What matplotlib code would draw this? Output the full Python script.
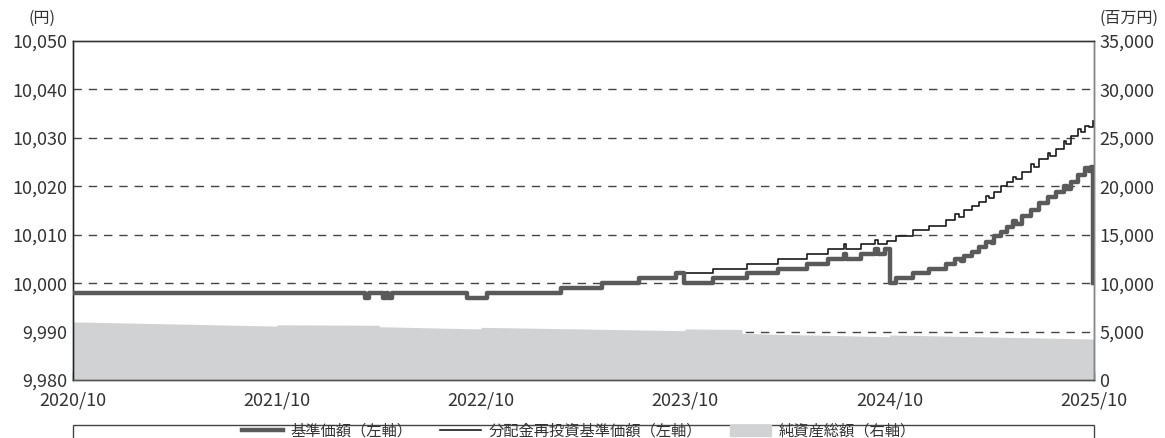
import numpy as np
import pandas as pd
import matplotlib
matplotlib.use("Agg")
import matplotlib.pyplot as plt
from matplotlib.ticker import FuncFormatter, MultipleLocator
from matplotlib.lines import Line2D
from matplotlib.patches import Patch, Rectangle

plt.rcParams['font.family'] = ['Noto Sans CJK JP', 'DejaVu Sans']

# 基準価額 (円), step values
nav_dates = ["2020-10-01", "2022-03-08", "2022-03-15", "2022-04-08", "2022-04-14", "2022-04-18",
             "2022-04-25", "2022-09-05", "2022-10-12", "2023-02-20", "2023-05-05", "2023-07-10",
             "2023-09-15", "2023-09-28", "2023-11-20", "2024-01-20", "2024-03-15", "2024-05-05",
             "2024-06-12", "2024-07-10", "2024-07-15", "2024-08-10", "2024-09-05", "2024-09-10",
             "2024-09-22", "2024-10-01", "2024-10-12", "2024-11-12", "2024-12-10", "2025-01-10",
             "2025-01-25", "2025-02-05", "2025-02-10", "2025-02-25", "2025-03-10", "2025-03-22",
             "2025-04-01", "2025-04-05", "2025-04-18", "2025-04-28", "2025-05-10", "2025-05-15",
             "2025-05-25", "2025-06-10", "2025-06-25", "2025-07-10", "2025-07-25", "2025-08-08",
             "2025-08-14", "2025-08-20", "2025-09-03", "2025-09-15", "2025-09-22", "2025-09-26",
             "2025-09-30"]
nav_values = [9998, 9997, 9998, 9997, 9998, 9997,
              9998, 9997, 9998, 9999, 10000, 10001,
              10002, 10000, 10001, 10002, 10003, 10004,
              10005, 10006, 10005, 10006, 10007, 10006,
              10007, 10000, 10001, 10002, 10003, 10004,
              10005, 10004.6, 10005.6, 10006.4, 10007.4, 10008.5,
              10008.2, 10009.7, 10010.6, 10011.6, 10012.8, 10012.3,
              10013.9, 10015.2, 10016.6, 10017.8, 10018.9, 10020,
              10019.5, 10020.9, 10022.3, 10023.7, 10023.2, 10024,
              10000]

# 分配金再投資基準価額 (円)
reinv_dates = ["2020-10-01", "2022-03-08", "2022-03-15", "2022-04-08", "2022-04-14", "2022-04-18",
               "2022-04-25", "2022-09-05", "2022-10-12", "2023-02-20", "2023-05-05", "2023-07-10",
               "2023-09-15", "2023-11-20", "2024-01-20", "2024-03-15", "2024-05-05", "2024-06-12",
               "2024-07-10", "2024-07-15", "2024-08-10", "2024-09-05", "2024-09-10", "2024-09-25",
               "2024-10-12", "2024-11-12", "2024-12-10", "2025-01-10", "2025-01-25", "2025-02-01",
               "2025-02-10", "2025-02-25", "2025-03-10", "2025-03-22", "2025-03-28", "2025-04-05",
               "2025-04-18", "2025-04-28", "2025-05-10", "2025-05-15", "2025-05-25", "2025-06-10",
               "2025-06-15", "2025-06-25", "2025-07-10", "2025-07-14", "2025-07-25", "2025-08-08",
               "2025-08-12", "2025-08-20", "2025-09-03", "2025-09-08", "2025-09-15", "2025-09-22",
               "2025-09-30"]
reinv_values = [9998, 9997, 9998, 9997, 9998, 9997,
                9998, 9997, 9998, 9999, 10000, 10001,
                10002, 10003, 10004, 10005, 10006, 10007,
                10008, 10007, 10008, 10009, 10008, 10008.8,
                10009.7, 10011, 10011.8, 10013, 10014.2, 10013.7,
                10015.1, 10016, 10016.8, 10018, 10017.5, 10018.9,
                10020, 10020.9, 10022, 10021.5, 10023, 10024.5,
                10024, 10025.6, 10026.8, 10026.3, 10027.8, 10029.3,
                10028.8, 10030.4, 10031.8, 10031.3, 10032.5, 10032.2,
                10033.5]

# 純資産総額 (百万円)
asset_dates = ["2020-10-01", "2021-09-30", "2021-10-01", "2022-04-01", "2022-04-02",
               "2022-09-30", "2022-10-01", "2023-09-30", "2023-10-01", "2024-01-10",
               "2024-01-11", "2024-09-30", "2024-10-01", "2025-10-01"]
asset_values = [6000, 5570, 5700, 5650, 5500,
                5270, 5440, 5090, 5270, 5220,
                4800, 4470, 4650, 4230]

x_ticks = ["2020-10-01", "2021-10-01", "2022-10-01", "2023-10-01", "2024-10-01", "2025-10-01"]
x_labels = ["2020/10", "2021/10", "2022/10", "2023/10", "2024/10", "2025/10"]

W, H = 1165, 438
fig = plt.figure(figsize=(W / 100, H / 100), dpi=100)
ax = fig.add_axes([73 / W, 1 - 380 / H, (1094 - 73) / W, (380 - 41) / H])
ax2 = ax.twinx()

txt = '#333333'
fs = 13

# right axis (net assets) on the base axes so the lines sit on top
ax.fill_between(pd.to_datetime(asset_dates), asset_values, 0, color='#d1d2d4', lw=0, zorder=2)
ax.set_ylim(0, 35000)
ax.yaxis.set_major_locator(MultipleLocator(5000))
ax.yaxis.set_major_formatter(FuncFormatter(lambda v, p: f"{int(v):,}"))
ax.yaxis.tick_right()
for y in range(5000, 35000, 5000):
    ax.axhline(y, color='#444444', lw=1.0, ls=(0, (6, 5)), zorder=1)

ax2.plot(pd.to_datetime(reinv_dates), reinv_values, drawstyle='steps-post', color='#1a1a1a', lw=1.2,
         zorder=3)
ax2.plot(pd.to_datetime(nav_dates), nav_values, drawstyle='steps-post', color='#5a5a5a', lw=3.2,
         solid_joinstyle='round', zorder=4)
ax2.set_ylim(9980, 10050)
ax2.yaxis.set_major_locator(MultipleLocator(10))
ax2.yaxis.set_major_formatter(FuncFormatter(lambda v, p: f"{int(round(v)):,}"))
ax2.yaxis.tick_left()

ax.set_xlim(pd.Timestamp("2020-10-01"), pd.Timestamp("2025-10-01"))
ax.set_xticks(pd.to_datetime(x_ticks))
ax.set_xticklabels(x_labels)

for a in (ax, ax2):
    a.tick_params(axis='y', length=0, labelsize=fs, labelcolor=txt, pad=4)
    a.tick_params(axis='x', direction='in', length=6, width=1, color='#444444', labelsize=fs,
                  labelcolor=txt, pad=8)
    for s in a.spines.values():
        s.set_color('#555555')
        s.set_linewidth(1.0)
ax2.spines['left'].set_color('#222222')
ax2.spines['top'].set_color('#333333')
ax2.spines['right'].set_color('#888888')

fig.text(42 / W, 1 - 18 / H, "(円)", ha='center', va='center', fontsize=11.5, color=txt)
fig.text(1129 / W, 1 - 18 / H, "(百万円)", ha='center', va='center', fontsize=11.5, color=txt)

# legend frame (cut off at the bottom of the image)
fig.patches.append(Rectangle((73 / W, -0.05), (1094 - 73) / W, 0.05 + 1 - 425 / H,
                             transform=fig.transFigure, fill=False, ec='#444444', lw=1.0))
handles = [Line2D([], [], color='#5a5a5a', lw=3.2),
           Line2D([], [], color='#1a1a1a', lw=1.2),
           Patch(color='#d1d2d4')]
labels = ["基準価額（左軸）", "分配金再投資基準価額（左軸）", "純資産総額（右軸）"]
fig.legend(handles, labels, loc='center', bbox_to_anchor=(579 / W, 1 - 431 / H), ncol=3,
           frameon=False, fontsize=11, handlelength=2.7, handletextpad=0.5, columnspacing=1.8,
           labelcolor=txt, borderpad=0.1)

fig.savefig("out.png", dpi=100)
